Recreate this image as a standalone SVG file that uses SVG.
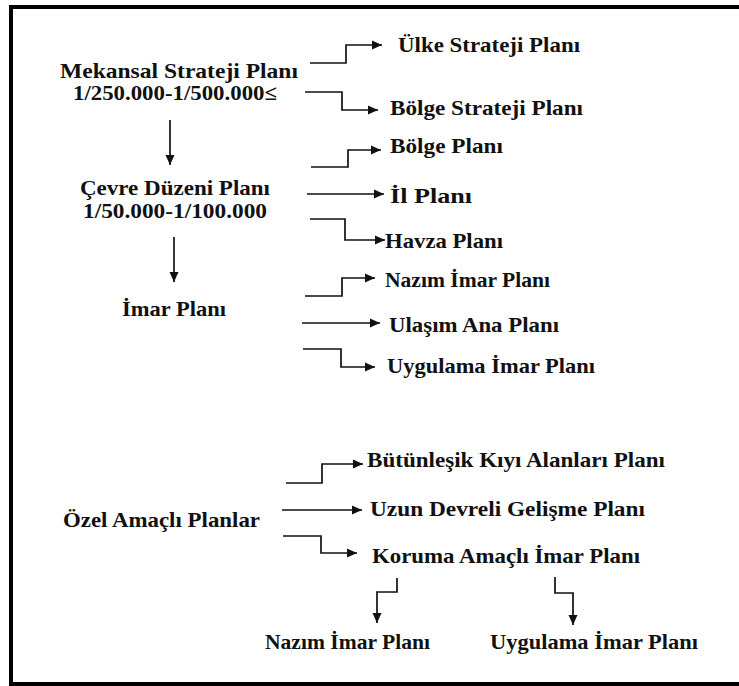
<svg xmlns="http://www.w3.org/2000/svg" width="739" height="686" viewBox="0 0 739 686">
<style>
text{font-family:"Liberation Serif","Times New Roman",serif;font-size:21px;font-weight:bold;fill:#111}
.c{fill:none;stroke:#111;stroke-width:1.7}
</style>
<defs>
<marker id="ah" markerUnits="userSpaceOnUse" markerWidth="11" markerHeight="10" refX="10" refY="5" orient="auto">
<path d="M0,0.5 L10,5 L0,9.5 Z" fill="#111"/>
</marker>
</defs>
<rect x="0" y="0" width="739" height="686" fill="#fff"/>
<rect id="frame" x="11" y="7" width="780" height="677" fill="none" stroke="#000" stroke-width="4"/>
<g id="connectors" class="c" marker-end="url(#ah)">
<path d="M170,120 V165"/>
<path d="M174,237 V282"/>
<path d="M310,63 H346 V45 H382"/>
<path d="M305,92 H342 V110 H378"/>
<path d="M311,167 H348 V150 H381"/>
<path d="M307,194 H384"/>
<path d="M310,219 H345 V240 H385"/>
<path d="M305,296 H342 V278 H375"/>
<path d="M302,323 H380"/>
<path d="M303,349 H341 V367 H375"/>
<path d="M286,483 H322 V464 H363"/>
<path d="M282,510 H362"/>
<path d="M283,536 H321 V553 H357"/>
<path d="M397,578 V592 H377 V623"/>
<path d="M555,577 V593 H573 V625"/>
</g>
<g id="n-mekansal"><text x="60" y="78" textLength="238" lengthAdjust="spacingAndGlyphs">Mekansal Strateji Planı</text>
<text x="73" y="100" textLength="204" lengthAdjust="spacingAndGlyphs">1/250.000-1/500.000≤</text></g>
<g id="n-cevre"><text x="80" y="195" textLength="190" lengthAdjust="spacingAndGlyphs">Çevre Düzeni Planı</text>
<text x="83" y="218" textLength="184" lengthAdjust="spacingAndGlyphs">1/50.000-1/100.000</text></g>
<g id="n-imar"><text x="122" y="316" textLength="104" lengthAdjust="spacingAndGlyphs">İmar Planı</text></g>
<g id="n-ulke"><text x="398" y="52" textLength="182" lengthAdjust="spacingAndGlyphs">Ülke Strateji Planı</text></g>
<g id="n-bolgestr"><text x="390" y="115" textLength="193" lengthAdjust="spacingAndGlyphs">Bölge Strateji Planı</text></g>
<g id="n-bolge"><text x="390" y="153" textLength="113" lengthAdjust="spacingAndGlyphs">Bölge Planı</text></g>
<g id="n-il"><text x="390" y="203" textLength="82" lengthAdjust="spacingAndGlyphs">İl Planı</text></g>
<g id="n-havza"><text x="385" y="248" textLength="118" lengthAdjust="spacingAndGlyphs">Havza Planı</text></g>
<g id="n-nazim1"><text x="385" y="287" textLength="165" lengthAdjust="spacingAndGlyphs">Nazım İmar Planı</text></g>
<g id="n-ulasim"><text x="389" y="332" textLength="170" lengthAdjust="spacingAndGlyphs">Ulaşım Ana Planı</text></g>
<g id="n-uygulama1"><text x="387" y="373" textLength="208" lengthAdjust="spacingAndGlyphs">Uygulama İmar Planı</text></g>
<g id="n-ozel"><text x="63" y="527" textLength="197" lengthAdjust="spacingAndGlyphs">Özel Amaçlı Planlar</text></g>
<g id="n-kiyi"><text x="367" y="467" textLength="298" lengthAdjust="spacingAndGlyphs">Bütünleşik Kıyı Alanları Planı</text></g>
<g id="n-uzun"><text x="370" y="516" textLength="275" lengthAdjust="spacingAndGlyphs">Uzun Devreli Gelişme Planı</text></g>
<g id="n-koruma"><text x="372" y="563" textLength="268" lengthAdjust="spacingAndGlyphs">Koruma Amaçlı İmar Planı</text></g>
<g id="n-nazim2"><text x="265" y="649" textLength="165" lengthAdjust="spacingAndGlyphs">Nazım İmar Planı</text></g>
<g id="n-uygulama2"><text x="490" y="649" textLength="208" lengthAdjust="spacingAndGlyphs">Uygulama İmar Planı</text></g>
</svg>
